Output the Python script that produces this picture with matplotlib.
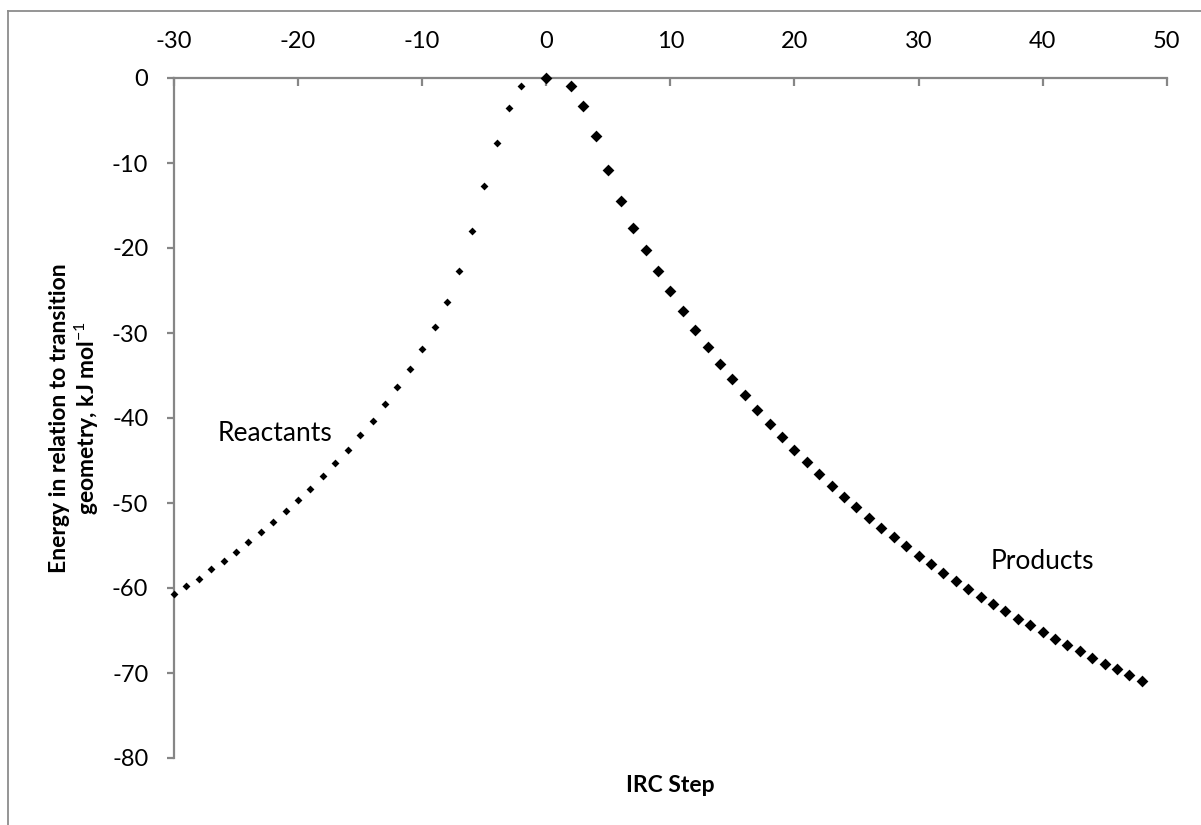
import matplotlib
matplotlib.use("Agg")
import matplotlib.pyplot as plt
from matplotlib.lines import Line2D

# IRC energy profile (kJ/mol relative to the transition geometry)
reactant_steps = [-30, -29, -28, -27, -26, -25, -24, -23, -22, -21, -20, -19, -18, -17,
                  -16, -15, -14, -13, -12, -11, -10, -9, -8, -7, -6, -5, -4, -3, -2, 0]
reactant_energy = [-60.7, -59.8, -58.9, -57.8, -56.8, -55.8, -54.6, -53.4, -52.2, -50.9,
                   -49.6, -48.3, -46.8, -45.3, -43.8, -42.0, -40.3, -38.4, -36.4, -34.2,
                   -31.9, -29.3, -26.4, -22.7, -18.0, -12.7, -7.6, -3.5, -0.94, 0.0]

product_steps = [0, 2, 3, 4, 5, 6, 7, 8, 9, 10, 11, 12, 13, 14, 15, 16, 17, 18, 19, 20,
                 21, 22, 23, 24, 25, 26, 27, 28, 29, 30, 31, 32, 33, 34, 35, 36, 37, 38,
                 39, 40, 41, 42, 43, 44, 45, 46, 47, 48]
product_energy = [0.0, -0.94, -3.3, -6.8, -10.8, -14.5, -17.6, -20.2, -22.7, -25.1,
                  -27.4, -29.6, -31.6, -33.6, -35.4, -37.3, -39.0, -40.7, -42.2, -43.8,
                  -45.2, -46.6, -48.0, -49.3, -50.5, -51.8, -52.9, -54.0, -55.1, -56.2,
                  -57.2, -58.2, -59.2, -60.1, -61.0, -61.9, -62.7, -63.6, -64.4, -65.2,
                  -65.95, -66.7, -67.4, -68.2, -68.9, -69.5, -70.2, -70.9]

x_ticks = [-30, -20, -10, 0, 10, 20, 30, 40, 50]
y_ticks = [0, -10, -20, -30, -40, -50, -60, -70, -80]

plt.rcParams["font.family"] = ["Lato", "DejaVu Sans"]
plt.rcParams["mathtext.fontset"] = "custom"
plt.rcParams["mathtext.rm"] = "Lato"
plt.rcParams["mathtext.bf"] = "Lato:bold"
plt.rcParams["mathtext.it"] = "Lato:italic"

W, H = 1201, 825
fig = plt.figure(figsize=(W / 100, H / 100), dpi=100)
fig.patch.set_facecolor("white")

# chart-area frame
frame_col = "#8c8c8c"
fig.add_artist(Line2D([8 / W, 8 / W], [0, 1 - 11 / H], transform=fig.transFigure,
                      color=frame_col, lw=1.3))
fig.add_artist(Line2D([8 / W, 1], [1 - 11 / H, 1 - 11 / H], transform=fig.transFigure,
                      color=frame_col, lw=1.3))

left, right, top, bottom = 174, 1166.7, 78, 758
ax = fig.add_axes([left / W, 1 - bottom / H, (right - left) / W, (bottom - top) / H])

ax.scatter(reactant_steps, reactant_energy, marker="D", s=4.0 ** 2, color="black",
           linewidths=0, zorder=3, clip_on=False)
ax.scatter(product_steps, product_energy, marker="D", s=6.0 ** 2, color="black",
           linewidths=0, zorder=4, clip_on=False)

ax.set_xlim(-30, 50)
ax.set_ylim(-80, 0)
ax.set_xticks(x_ticks)
ax.set_yticks(y_ticks)
ax.set_xticklabels([str(v) for v in x_ticks])
ax.set_yticklabels([str(v) for v in y_ticks])

axis_col = "#868686"
for side in ("right", "bottom"):
    ax.spines[side].set_visible(False)
for side in ("left", "top"):
    ax.spines[side].set_color(axis_col)
    ax.spines[side].set_linewidth(1.6)

ax.xaxis.tick_top()
ax.tick_params(axis="x", direction="in", length=5.8, width=1.6, color=axis_col,
               pad=18.5, labelsize=17, labelcolor="black")
ax.tick_params(axis="y", direction="out", length=5.0, width=1.6, color=axis_col,
               pad=13.5, labelsize=17, labelcolor="black")
ax.set_facecolor("none")

ax.text(-26.5, -41.8, "Reactants", fontsize=19, ha="left", va="center")
ax.text(35.8, -56.9, "Products", fontsize=19, ha="left", va="center")

fig.text((left + right) / 2 / W, 1 - 785 / H, "IRC Step", fontsize=16.5,
         fontweight="bold", ha="center", va="center")
fig.text(75 / W, 1 - 418 / H,
         "Energy in relation to transition\ngeometry, kJ mol$^{-1}$",
         fontsize=16.5, fontweight="bold", rotation=90, ha="center", va="center",
         linespacing=1.1, multialignment="center")

fig.savefig("out.png", dpi=100)
